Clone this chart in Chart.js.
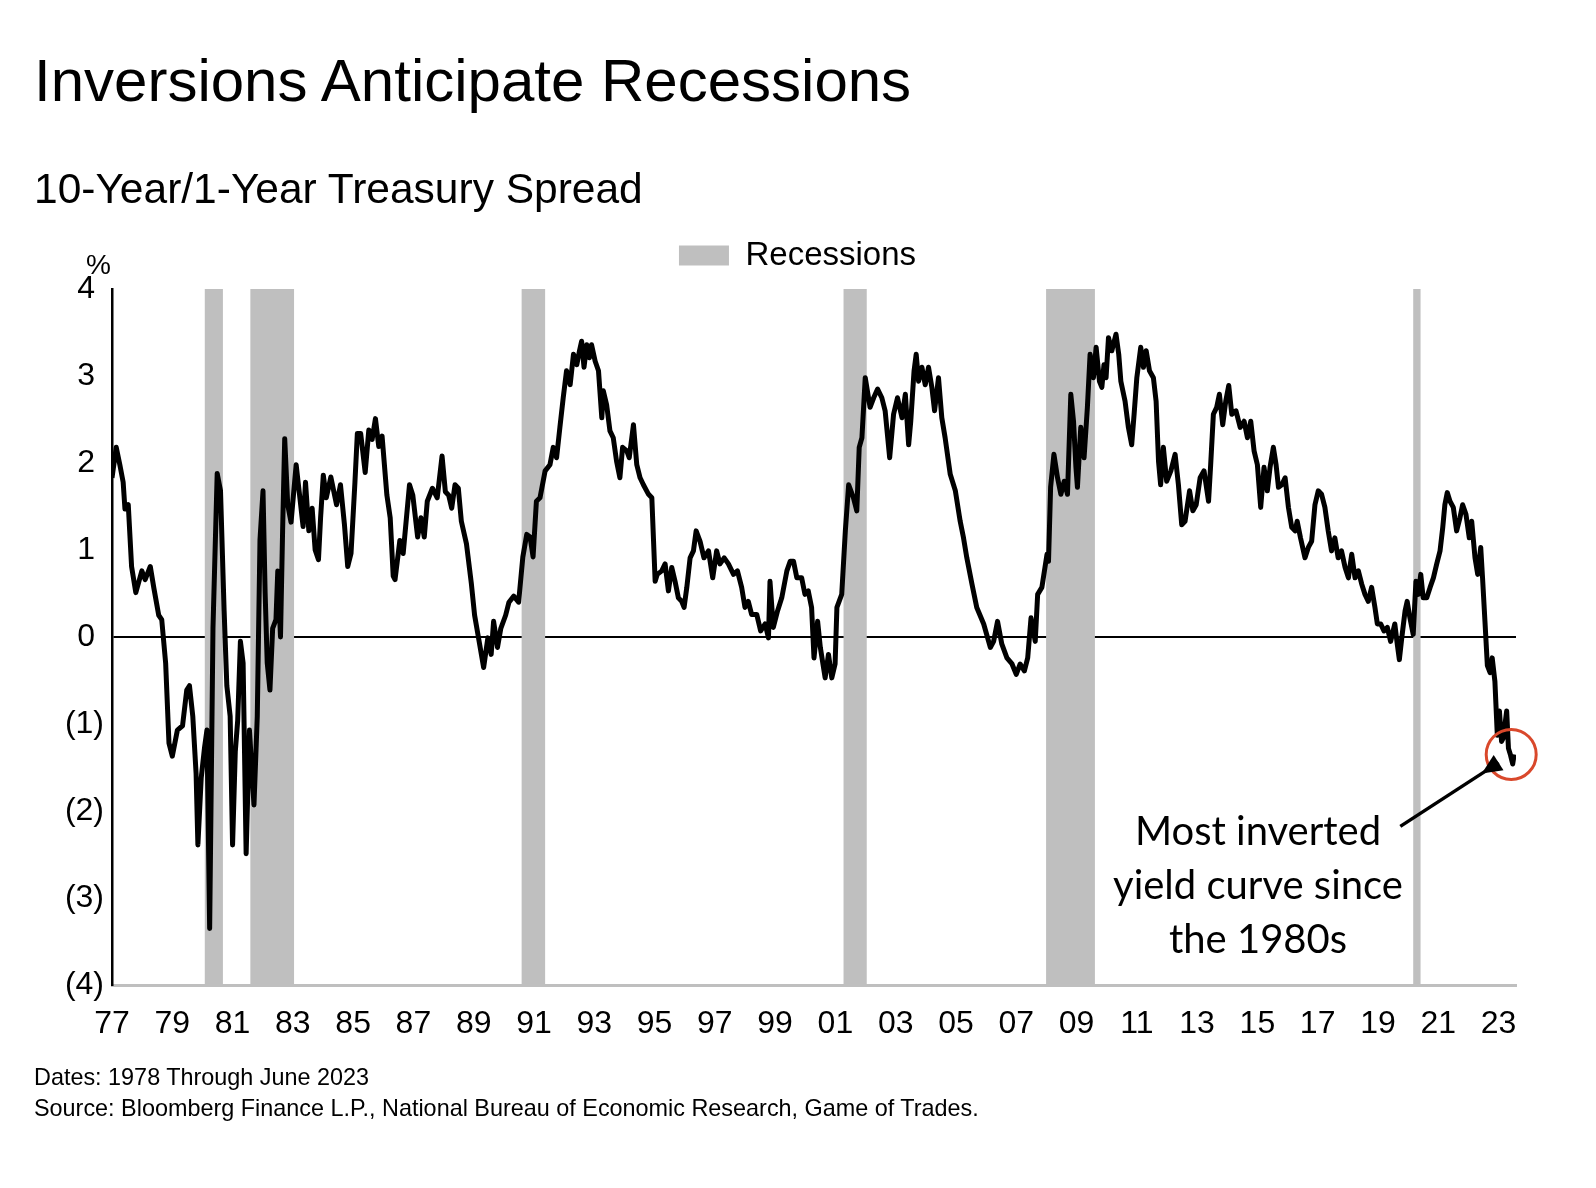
<!DOCTYPE html>
<html>
<head>
<meta charset="utf-8">
<title>Inversions Anticipate Recessions</title>
<script src="https://cdn.jsdelivr.net/npm/chart.js@4.4.0/dist/chart.umd.min.js"></script>
<style>
  html, body { margin: 0; padding: 0; background: #fff; }
  body { width: 1596px; height: 1188px; position: relative; overflow: hidden;
         font-family: "Liberation Sans", Arial, sans-serif; color: #000; }
  #spread-chart { position: absolute; left: 0; top: 0; }
  .txt { position: absolute; white-space: nowrap; }
  #title { left: 34px; top: 51px; font-size: 60px; line-height: 60px; }
  #subtitle { left: 34px; top: 168px; font-size: 42.5px; line-height: 42.5px; }
  #pct { left: 86px; top: 251px; font-size: 28px; line-height: 28px; }
  #note { left: 1058px; width: 400px; top: 803px; text-align: center;
          font-family: Lato, sans-serif; font-size: 40px; line-height: 54px; }
  #foot { left: 34px; top: 1062px; font-size: 23.4px; line-height: 31px; }
</style>
</head>
<body>
<canvas id="spread-chart" width="1596" height="1188"></canvas>
<div class="txt" id="title">Inversions Anticipate Recessions</div>
<div class="txt" id="subtitle">10-Year/1-Year Treasury Spread</div>
<div class="txt" id="pct">%</div>
<div class="txt" id="note">Most inverted<br>yield curve since<br>the 1980s</div>
<div class="txt" id="foot">Dates: 1978 Through June 2023<br>Source: Bloomberg Finance L.P., National Bureau of Economic Research, Game of Trades.</div>

<script>
// 10y-1y spread (decimal year, %)
const spreadDates = [
    // 1977 - 1983
    1977.00, 1977.14, 1977.26, 1977.37, 1977.43, 1977.54, 1977.65, 1977.79,
    1977.99, 1978.10, 1978.27, 1978.39, 1978.55, 1978.65, 1978.78, 1978.89,
    1979.00, 1979.17, 1979.34, 1979.48, 1979.57, 1979.68, 1979.79, 1979.85,
    1979.96, 1980.07, 1980.15, 1980.24, 1980.35, 1980.49, 1980.60, 1980.72,
    1980.81, 1980.92, 1981.00, 1981.09, 1981.17, 1981.26, 1981.35, 1981.45,
    1981.56, 1981.71, 1981.82, 1981.91, 1982.01, 1982.08, 1982.15, 1982.24,
    1982.33, 1982.44, 1982.50, 1982.59, 1982.66, 1982.73, 1982.83, 1982.94,
    1983.11, 1983.34,
    // 1983 - 1991
    1983.42, 1983.53, 1983.64, 1983.74, 1983.85, 1983.92, 1984.01, 1984.11,
    1984.26, 1984.45, 1984.58, 1984.71, 1984.82, 1984.93, 1985.06, 1985.14,
    1985.25, 1985.40, 1985.52, 1985.63, 1985.74, 1985.85, 1985.96, 1986.12,
    1986.23, 1986.33, 1986.39, 1986.55, 1986.66, 1986.87, 1986.98, 1987.14,
    1987.25, 1987.36, 1987.46, 1987.63, 1987.79, 1987.95, 1988.06, 1988.17,
    1988.27, 1988.38, 1988.49, 1988.59, 1988.76, 1988.92, 1989.03, 1989.14,
    1989.33, 1989.47, 1989.58, 1989.66, 1989.79, 1989.90, 1990.06, 1990.17,
    1990.33, 1990.49, 1990.63, 1990.76, 1990.87, 1990.97, 1991.08,
    // 1991 - 2000
    1991.20, 1991.37, 1991.53, 1991.64, 1991.75, 1991.86, 1991.97, 1992.08,
    1992.20, 1992.31, 1992.42, 1992.51, 1992.58, 1992.66, 1992.75, 1992.84,
    1992.91, 1993.03, 1993.14, 1993.25, 1993.30, 1993.41, 1993.52, 1993.63,
    1993.74, 1993.85, 1993.94, 1994.08, 1994.16, 1994.30, 1994.41, 1994.52,
    1994.63, 1994.80, 1994.91, 1995.02, 1995.09, 1995.24, 1995.35, 1995.46,
    1995.57, 1995.68, 1995.79, 1995.90, 1995.98, 1996.07, 1996.18, 1996.29,
    1996.38, 1996.51, 1996.64, 1996.79, 1996.93, 1997.06, 1997.17, 1997.31,
    1997.45, 1997.62, 1997.75, 1997.89, 1998.00, 1998.11, 1998.22, 1998.39,
    1998.52, 1998.67, 1998.78, 1998.83, 1998.94, 1999.08, 1999.22, 1999.39,
    1999.50, 1999.61, 1999.72, 1999.88, 1999.99, 2000.10, 2000.21, 2000.29,
    // 2000 - 2008
    2000.41, 2000.50, 2000.66, 2000.77, 2000.88, 2000.99, 2001.05, 2001.21,
    2001.33, 2001.44, 2001.60, 2001.71, 2001.79, 2001.88, 2001.99, 2002.15,
    2002.27, 2002.40, 2002.54, 2002.65, 2002.80, 2002.93, 2003.06, 2003.21,
    2003.32, 2003.43, 2003.50, 2003.61, 2003.68, 2003.76, 2003.87, 2003.98,
    2004.09, 2004.20, 2004.29, 2004.42, 2004.53, 2004.64, 2004.81, 2004.98,
    2005.14, 2005.25, 2005.36, 2005.53, 2005.69, 2005.92, 2006.14, 2006.25,
    2006.38, 2006.52, 2006.69, 2006.86, 2007.00, 2007.13, 2007.27, 2007.38,
    2007.49, 2007.63, 2007.71, 2007.85, 2008.02,
    // 2008 - 2016
    2008.07, 2008.14, 2008.25, 2008.37, 2008.48, 2008.59, 2008.70, 2008.81,
    2008.90, 2008.98, 2009.03, 2009.14, 2009.25, 2009.36, 2009.45, 2009.56,
    2009.65, 2009.76, 2009.84, 2009.91, 2009.98, 2010.06, 2010.17, 2010.31,
    2010.40, 2010.47, 2010.61, 2010.72, 2010.83, 2010.91, 2011.00, 2011.13,
    2011.22, 2011.31, 2011.42, 2011.55, 2011.64, 2011.72, 2011.79, 2011.88,
    2011.99, 2012.13, 2012.27, 2012.38, 2012.49, 2012.60, 2012.75, 2012.86,
    2012.97, 2013.10, 2013.23, 2013.38, 2013.45, 2013.54, 2013.65, 2013.74,
    2013.85, 2013.95, 2014.05, 2014.15, 2014.29, 2014.43, 2014.56, 2014.67,
    2014.78, 2014.89, 2015.00, 2015.11, 2015.22, 2015.33, 2015.42, 2015.53,
    2015.62, 2015.70, 2015.81, 2015.92, 2016.03, 2016.14, 2016.25,
    // 2016 - 2023
    2016.32, 2016.43, 2016.58, 2016.69, 2016.80, 2016.91, 2017.02, 2017.13,
    2017.24, 2017.35, 2017.46, 2017.57, 2017.68, 2017.79, 2017.91, 2018.02,
    2018.13, 2018.24, 2018.35, 2018.46, 2018.57, 2018.68, 2018.79, 2018.90,
    2018.98, 2019.09, 2019.20, 2019.31, 2019.42, 2019.56, 2019.64, 2019.71,
    2019.79, 2019.90, 2019.97, 2020.06, 2020.17, 2020.26, 2020.34, 2020.42,
    2020.50, 2020.62, 2020.73, 2020.84, 2020.95, 2021.06, 2021.15, 2021.22,
    2021.30, 2021.39, 2021.50, 2021.61, 2021.72, 2021.81, 2021.92, 2022.03,
    2022.11, 2022.22, 2022.31, 2022.41, 2022.47, 2022.55, 2022.63, 2022.72,
    2022.79, 2022.88, 2022.96, 2023.03, 2023.10, 2023.16, 2023.27, 2023.33,
    2023.40, 2023.47, 2023.52
];

const spreadValues = [
    // 1977 - 1983
    1.83, 2.18, 1.98, 1.78, 1.47, 1.52, 0.81, 0.51,
    0.76, 0.66, 0.81, 0.56, 0.25, 0.20, -0.30, -1.22,
    -1.37, -1.07, -1.02, -0.61, -0.56, -0.91, -1.57, -2.39,
    -1.62, -1.27, -1.07, -3.35, 0.10, 1.88, 1.68, 0.30,
    -0.56, -0.91, -2.39, -1.32, -0.96, -0.05, -0.30, -2.49,
    -1.07, -1.93, -0.91, 1.12, 1.68, 0.51, -0.30, -0.61,
    0.10, 0.20, 0.76, 0.00, 1.22, 2.28, 1.52, 1.32,
    1.98, 1.27,
    // 1983 - 1991
    1.78, 1.22, 1.48, 1.00, 0.89, 1.37, 1.86, 1.60,
    1.84, 1.52, 1.75, 1.30, 0.81, 0.96, 1.78, 2.34,
    2.34, 1.89, 2.38, 2.27, 2.51, 2.19, 2.31, 1.63,
    1.37, 0.70, 0.66, 1.11, 0.96, 1.75, 1.63, 1.15,
    1.37, 1.15, 1.56, 1.71, 1.60, 2.08, 1.67, 1.63,
    1.48, 1.75, 1.71, 1.33, 1.07, 0.62, 0.25, 0.03,
    -0.35, -0.01, -0.20, 0.18, -0.12, 0.10, 0.25, 0.40,
    0.47, 0.40, 0.92, 1.18, 1.15, 0.92, 1.56,
    // 1991 - 2000
    1.60, 1.91, 1.98, 2.18, 2.06, 2.41, 2.75, 3.06,
    2.90, 3.25, 3.13, 3.29, 3.40, 3.10, 3.36, 3.21,
    3.36, 3.17, 3.06, 2.52, 2.83, 2.67, 2.37, 2.29,
    2.02, 1.83, 2.18, 2.14, 2.06, 2.44, 1.98, 1.83,
    1.75, 1.64, 1.60, 0.64, 0.72, 0.76, 0.84, 0.53,
    0.80, 0.64, 0.45, 0.41, 0.34, 0.57, 0.91, 0.99,
    1.22, 1.10, 0.91, 0.99, 0.68, 0.99, 0.84, 0.91,
    0.84, 0.72, 0.76, 0.57, 0.34, 0.41, 0.26, 0.26,
    0.07, 0.15, -0.01, 0.64, 0.11, 0.30, 0.45, 0.76,
    0.87, 0.87, 0.68, 0.68, 0.49, 0.53, 0.34, -0.24,
    // 2000 - 2008
    0.18, -0.12, -0.47, -0.20, -0.47, -0.31, 0.34, 0.49,
    1.22, 1.75, 1.60, 1.45, 2.18, 2.29, 2.98, 2.64,
    2.75, 2.85, 2.75, 2.60, 2.06, 2.56, 2.75, 2.52,
    2.79, 2.21, 2.48, 3.06, 3.25, 2.94, 3.10, 2.90,
    3.10, 2.87, 2.60, 2.98, 2.52, 2.29, 1.87, 1.68,
    1.33, 1.14, 0.91, 0.61, 0.34, 0.15, -0.12, -0.05,
    0.18, -0.08, -0.24, -0.31, -0.43, -0.31, -0.39, -0.24,
    0.22, -0.05, 0.49, 0.57, 0.95,
    // 2008 - 2016
    0.87, 1.72, 2.10, 1.83, 1.64, 1.79, 1.64, 2.79,
    2.48, 1.95, 1.72, 2.41, 2.06, 2.64, 3.25, 2.98,
    3.33, 2.94, 2.87, 3.13, 2.98, 3.44, 3.29, 3.48,
    3.25, 2.94, 2.71, 2.41, 2.21, 2.56, 2.98, 3.33,
    3.10, 3.29, 3.06, 2.98, 2.71, 2.02, 1.75, 2.18,
    1.79, 1.91, 2.10, 1.75, 1.29, 1.33, 1.68, 1.45,
    1.52, 1.83, 1.91, 1.56, 1.98, 2.56, 2.64, 2.79,
    2.44, 2.71, 2.89, 2.56, 2.60, 2.41, 2.48, 2.29,
    2.48, 2.14, 1.98, 1.49, 1.95, 1.68, 1.95, 2.18,
    1.98, 1.72, 1.75, 1.83, 1.49, 1.26, 1.22,
    // 2016 - 2023
    1.33, 1.14, 0.91, 1.03, 1.10, 1.52, 1.68, 1.64,
    1.49, 1.22, 0.99, 1.14, 0.91, 0.99, 0.80, 0.68,
    0.95, 0.68, 0.76, 0.61, 0.49, 0.41, 0.57, 0.34,
    0.15, 0.15, 0.07, 0.11, -0.05, 0.15, -0.08, -0.26,
    -0.01, 0.30, 0.41, 0.22, 0.03, 0.64, 0.49, 0.72,
    0.45, 0.45, 0.57, 0.68, 0.84, 0.99, 1.26, 1.52,
    1.66, 1.56, 1.49, 1.22, 1.37, 1.52, 1.41, 1.14,
    1.33, 0.91, 0.72, 1.03, 0.68, 0.18, -0.33, -0.41,
    -0.24, -0.51, -1.13, -0.85, -1.20, -1.16, -0.85, -1.28,
    -1.36, -1.46, -1.35
];

// recession bands (start / end, decimal year)
const recessionStart = [1980.07, 1981.59, 1990.59, 2001.27, 2007.99, 2020.17];
const recessionEnd   = [1980.68, 1983.04, 1991.37, 2002.04, 2009.61, 2020.42];

const tickYears  = [1977, 1979, 1981, 1983, 1985, 1987, 1989, 1991, 1993, 1995, 1997, 1999,
                    2001, 2003, 2005, 2007, 2009, 2011, 2013, 2015, 2017, 2019, 2021, 2023];
const tickLabels = ['77', '79', '81', '83', '85', '87', '89', '91', '93', '95', '97', '99',
                    '01', '03', '05', '07', '09', '11', '13', '15', '17', '19', '21', '23'];
const yTickValues = [-4, -3, -2, -1, 0, 1, 2, 3, 4];
// positives keep a trailing space so digits line up with the bracketed ones
const yTickLabels = ['(4)', '(3)', '(2)', '(1)', '0 ', '1 ', '2 ', '3 ', '4 '];

const Y_MIN = -4, Y_MAX = 4;

const spreadPoints = spreadDates.map((d, i) => ({ x: d, y: spreadValues[i] }));

// each recession is a box from the bottom of the axis to the top
const recessionPoints = [];
recessionStart.forEach((s, i) => {
    recessionPoints.push({ x: s, y: Y_MIN }, { x: s, y: Y_MAX },
                         { x: recessionEnd[i], y: Y_MAX }, { x: recessionEnd[i], y: Y_MIN });
});

// red ring round the latest reading + arrow from the note
const latestMark = {
    id: 'latestMark',
    afterDatasetsDraw(chart) {
        const { ctx, scales: { x, y } } = chart;
        const last = spreadDates.length - 1;
        const cx = x.getPixelForValue(spreadDates[last]) - 3;
        const cy = y.getPixelForValue(spreadValues[last]);

        ctx.save();
        ctx.strokeStyle = '#d9482b';
        ctx.lineWidth = 3;
        ctx.beginPath();
        ctx.arc(cx, cy, 25, 0, Math.PI * 2);
        ctx.stroke();

        const ux = -0.84, uy = 0.545;
        const tipX = cx + ux * 35, tipY = cy + uy * 35;
        const tailX = cx + ux * 132, tailY = cy + uy * 132;
        const baseX = tipX - ux * 20, baseY = tipY - uy * 20;
        ctx.strokeStyle = '#000';
        ctx.fillStyle = '#000';
        ctx.lineWidth = 3.5;
        ctx.beginPath();
        ctx.moveTo(tailX, tailY);
        ctx.lineTo(baseX, baseY);
        ctx.stroke();
        ctx.beginPath();
        ctx.moveTo(tipX, tipY);
        ctx.lineTo(baseX - uy * 9, baseY + ux * 9);
        ctx.lineTo(baseX + uy * 9, baseY - ux * 9);
        ctx.closePath();
        ctx.fill();
        ctx.restore();
    }
};

Chart.defaults.font.family = '"Liberation Sans", Arial, sans-serif';
Chart.defaults.color = '#000';

const spreadChart = document.getElementById('spread-chart');

new Chart(spreadChart, {
    type: 'line',
    data: {
        datasets: [
            {
                label: '10-Year/1-Year Treasury Spread',
                data: spreadPoints,
                borderColor: '#000',
                borderWidth: 5,
                borderJoinStyle: 'round',
                pointRadius: 0,
                tension: 0,
                fill: false,
                order: 1,
                xAxisID: 'x',
                yAxisID: 'y'
            },
            {
                label: 'Recessions',
                data: recessionPoints,
                borderWidth: 0,
                borderColor: 'rgba(0,0,0,0)',
                backgroundColor: '#bfbfbf',
                pointRadius: 0,
                tension: 0,
                fill: { value: Y_MIN },
                order: 2,
                xAxisID: 'x',
                yAxisID: 'y'
            }
        ]
    },
    options: {
        responsive: false,
        animation: false,
        events: [],
        layout: { padding: { top: 229, left: 62, right: 63, bottom: 0 } },
        plugins: {
            legend: {
                position: 'top',
                labels: {
                    filter: item => item.datasetIndex === 1,
                    boxWidth: 50,
                    boxHeight: 20,
                    padding: 10,
                    color: '#000',
                    font: { size: 33 }
                }
            },
            tooltip: { enabled: false }
        },
        scales: {
            x: {
                type: 'linear',
                position: 'bottom',
                min: 1977,
                max: 2023.58,
                afterBuildTicks: s => { s.ticks = tickYears.map(v => ({ value: v })); },
                afterFit: s => { s.height = 203; },
                ticks: {
                    callback: (v, i) => tickLabels[i],
                    autoSkip: false,
                    maxRotation: 0,
                    padding: 20,
                    color: '#000',
                    font: { size: 32 }
                },
                grid: { display: false, drawTicks: false },
                border: { display: true, color: '#bfbfbf', width: 3 }
            },
            // empty strip between legend and plot
            gap: {
                type: 'linear',
                position: 'top',
                ticks: { display: false },
                grid: { display: false, drawTicks: false },
                border: { display: false },
                afterFit: s => { s.height = 7; }
            },
            // empty strip right of the plot, keeps the legend where it sits in the original
            side: {
                type: 'linear',
                position: 'right',
                ticks: { display: false },
                grid: { display: false, drawTicks: false },
                border: { display: false },
                afterFit: s => { s.width = 17; }
            },
            y: {
                type: 'linear',
                min: Y_MIN,
                max: Y_MAX,
                afterBuildTicks: s => { s.ticks = yTickValues.map(v => ({ value: v })); },
                afterFit: s => { s.width = 50; },
                ticks: {
                    callback: (v, i) => yTickLabels[i],
                    padding: 8,
                    color: '#000',
                    font: { size: 32 }
                },
                grid: {
                    drawTicks: false,
                    lineWidth: 2,
                    color: c => (c.tick && c.tick.value === 0) ? '#000' : 'rgba(0,0,0,0)'
                },
                border: { color: '#000', width: 2.5 }
            }
        }
    },
    plugins: [latestMark]
});
</script>
</body>
</html>
